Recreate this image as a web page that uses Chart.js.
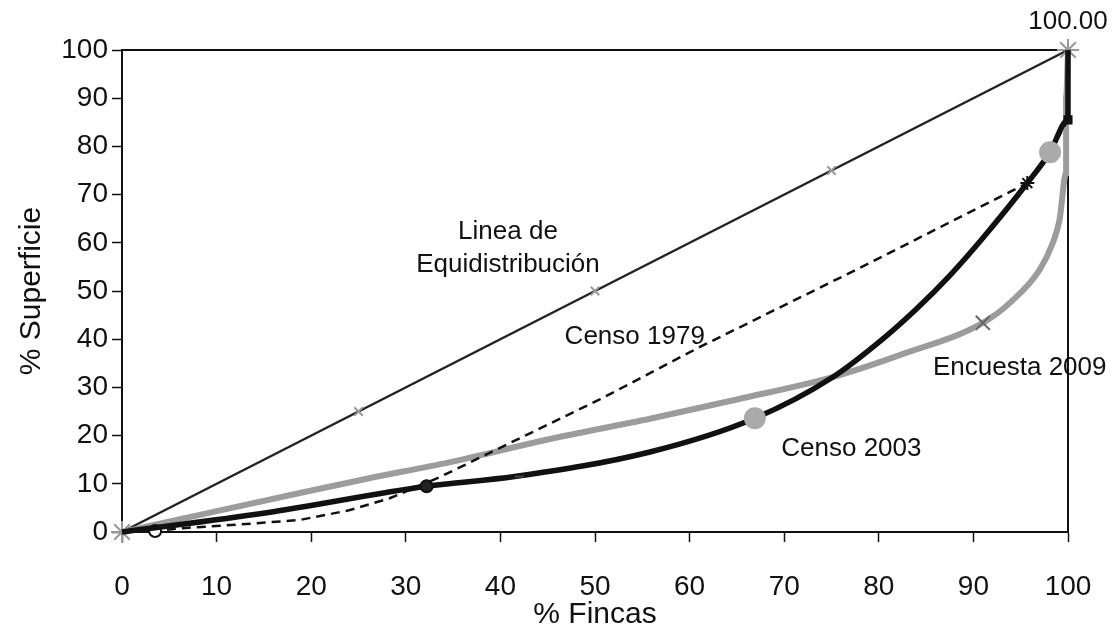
<!DOCTYPE html>
<html>
<head>
<meta charset="utf-8">
<script src="https://cdn.jsdelivr.net/npm/chart.js@4"></script>
<style>
html, body { margin: 0; padding: 0; background: #fff; }
#wrap { width: 1112px; height: 633px; }
</style>
</head>
<body>
<div id="wrap"><canvas id="chart"></canvas></div>
<script>
// Datos (% Fincas, % Superficie)
const equiX = [0, 25, 50, 75, 100];
const equiY = [0, 25, 50, 75, 100];

const censo1979X = [0, 3.5, 6.4, 12, 18.8, 24, 28.3, 33.6, 50.5, 61.1, 77.7, 95.7, 98.1, 100, 100];
const censo1979Y = [0, 0.2, 0.8, 1.5, 2.5, 4.5, 7, 11.4, 27.5, 38.4, 54.5, 72.4, 78.8, 85.5, 100];

const censo2003X = [0, 15.3, 32.2, 41.5, 55.8, 66.9, 75.2, 80.4, 84, 87.5, 91, 95.7, 98.1, 100, 100];
const censo2003Y = [0, 4, 9.5, 11.5, 16.6, 23.6, 32.2, 40, 46.3, 53.2, 61, 72.4, 78.8, 85.5, 100];

const encuesta2009X = [0, 3.5, 18.8, 26, 34.7, 45, 55.8, 65, 75.2, 82.2, 91, 94, 97, 98.4, 99.1, 99.8, 99.8, 100];
const encuesta2009Y = [0, 1.5, 8.1, 11.1, 14.5, 19.2, 23.5, 27.5, 32.2, 36.7, 43.4, 47.8, 54.4, 60, 64.7, 74.5, 90, 100];

const axisTicks = [0, 10, 20, 30, 40, 50, 60, 70, 80, 90, 100];

const toPoints = (xs, ys) => xs.map((x, i) => ({ x: x, y: ys[i] }));

// marcadores por indice de punto
const equiMarks = {
    0: { s: 'star', r: 11, c: '#999' },
    1: { s: 'crossRot', r: 6, c: '#999' },
    2: { s: 'crossRot', r: 6, c: '#999' },
    3: { s: 'crossRot', r: 6, c: '#999' },
    4: { s: 'star', r: 11, c: '#999' }
};
const m1979 = {
    1: { s: 'circle', r: 6, c: '#fff', b: '#111' }
};
const m2003 = {
    2: { s: 'circle', r: 6, c: '#222', b: '#111' },
    3: { s: 'dash', r: 9, c: '#444', b: '#444' },
    5: { s: 'circle', r: 10, c: '#aaa', b: '#aaa' },
    11: { s: 'star', r: 7, c: '#111', b: '#111' },
    12: { s: 'circle', r: 10, c: '#aaa', b: '#aaa' },
    13: { s: 'rect', r: 5, c: '#111', b: '#111' }
};
const m2009 = {
    10: { s: 'crossRot', r: 10, c: '#666', b: '#666' }
};

function markerOpts(marks) {
    const get = ctx => marks[ctx.dataIndex];
    return {
        clip: false,
        pointStyle: ctx => (get(ctx) ? get(ctx).s : 'circle'),
        pointRadius: ctx => (get(ctx) ? get(ctx).r : 0),
        pointBackgroundColor: ctx => (get(ctx) ? get(ctx).c : 'transparent'),
        pointBorderColor: ctx => (get(ctx) ? (get(ctx).b || get(ctx).c) : 'transparent'),
        pointBorderWidth: 2,
        pointHoverRadius: 0
    };
}

// Textos sobre el grafico (coordenadas de datos)
const labels = [
    { text: 'Linea de', x: 40.8, y: 62.2 },
    { text: 'Equidistribución', x: 40.8, y: 55.4 },
    { text: 'Censo 1979', x: 54.2, y: 40.5 },
    { text: 'Encuesta 2009', x: 94.9, y: 34 },
    { text: 'Censo 2003', x: 77.1, y: 17.2 }
];

const framePlugin = {
    id: 'frame',
    beforeDatasetsDraw(chart) {
        const { ctx, chartArea: a } = chart;
        ctx.save();
        ctx.strokeStyle = '#111';
        ctx.lineWidth = 2;
        ctx.strokeRect(a.left, a.top, a.right - a.left, a.bottom - a.top);
        ctx.restore();
    },
    afterDatasetsDraw(chart) {
        const { ctx, scales } = chart;
        ctx.save();
        ctx.fillStyle = '#111';
        ctx.font = '26px "Liberation Sans", Arial, sans-serif';
        ctx.textAlign = 'center';
        ctx.textBaseline = 'middle';
        labels.forEach(l => {
            ctx.fillText(l.text, scales.x.getPixelForValue(l.x), scales.y.getPixelForValue(l.y));
        });
        // etiqueta del ultimo punto
        const last = equiY[equiY.length - 1];
        ctx.fillText(last.toFixed(2), scales.x.getPixelForValue(equiX[equiX.length - 1]), scales.y.getPixelForValue(last) - 28);
        ctx.restore();
    }
};

const tickFont = { family: '"Liberation Sans", Arial, sans-serif', size: 28 };
const titleFont = { family: '"Liberation Sans", Arial, sans-serif', size: 30 };

new Chart(document.getElementById('chart'), {
    type: 'line',
    data: {
        datasets: [
            Object.assign({
                label: 'Censo 2003',
                data: toPoints(censo2003X, censo2003Y),
                borderColor: '#111',
                borderWidth: 5.5,
                cubicInterpolationMode: 'monotone'
            }, markerOpts(m2003)),
            Object.assign({
                label: 'Censo 1979',
                data: toPoints(censo1979X, censo1979Y),
                borderColor: '#111',
                borderWidth: 2.5,
                borderDash: [9, 6],
                tension: 0
            }, markerOpts(m1979)),
            Object.assign({
                label: 'Encuesta 2009',
                data: toPoints(encuesta2009X, encuesta2009Y),
                borderColor: '#9c9c9c',
                borderWidth: 6,
                cubicInterpolationMode: 'monotone'
            }, markerOpts(m2009)),
            Object.assign({
                label: 'Linea de Equidistribución',
                data: toPoints(equiX, equiY),
                borderColor: '#222',
                borderWidth: 2.5,
                tension: 0
            }, markerOpts(equiMarks))
        ]
    },
    options: {
        responsive: true,
        maintainAspectRatio: false,
        animation: false,
        layout: { padding: { left: 10, top: 50, right: 44, bottom: 0 } },
        plugins: {
            legend: { display: false },
            tooltip: { enabled: false }
        },
        scales: {
            x: {
                type: 'linear',
                min: 0,
                max: 100,
                afterBuildTicks: scale => { scale.ticks = axisTicks.map(v => ({ value: v })); },
                ticks: { font: tickFont, color: '#111', padding: 28, maxRotation: 0 },
                grid: { display: true, drawOnChartArea: false, drawTicks: true, tickLength: 10, tickColor: '#111', tickWidth: 1.5 },
                border: { display: true, color: '#111', width: 2 },
                title: { display: true, text: '% Fincas', font: titleFont, color: '#111', padding: 0 },
                afterFit: scale => {
                    scale.height = 101;
                    scale.paddingLeft = 0;
                    scale.paddingRight = 0;
                }
            },
            y: {
                type: 'linear',
                min: 0,
                max: 100,
                afterBuildTicks: scale => { scale.ticks = axisTicks.map(v => ({ value: v })); },
                ticks: { font: tickFont, color: '#111', padding: 4 },
                grid: { display: true, drawOnChartArea: false, drawTicks: true, tickLength: 10, tickColor: '#111', tickWidth: 1.5 },
                border: { display: true, color: '#111', width: 2 },
                title: { display: true, text: '% Superficie', font: titleFont, color: '#111', padding: { top: 4, bottom: 4 } },
                afterFit: scale => {
                    scale.width = 112;
                    scale.paddingTop = 0;
                    scale.paddingBottom = 0;
                }
            }
        }
    },
    plugins: [framePlugin]
});
</script>
</body>
</html>
